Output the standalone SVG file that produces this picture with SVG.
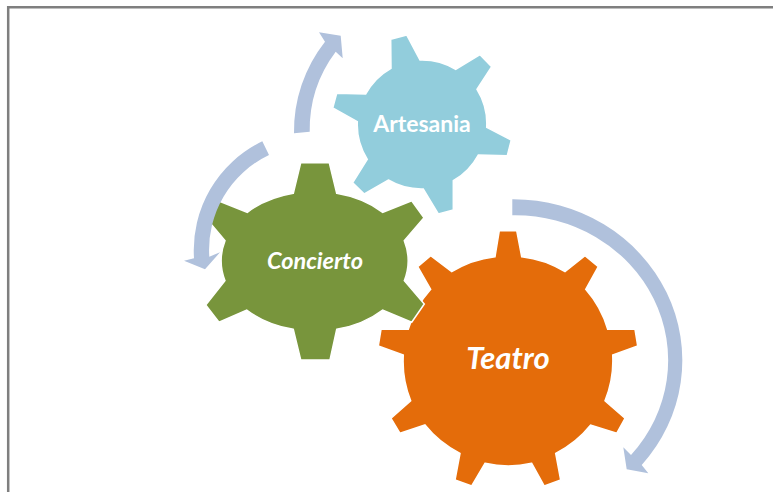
<svg xmlns="http://www.w3.org/2000/svg" width="773" height="492" viewBox="0 0 773 492">
<style>
.t{font-family:Lato,"Open Sans","Liberation Sans",sans-serif;fill:#fff;font-weight:700;text-anchor:middle}
.g{stroke:#fff;stroke-width:1.5;stroke-linejoin:miter}
.a{fill:#b0c1dc}
</style>
<rect width="773" height="492" fill="#fff"/>
<path d="M8.2 492V7.2H773" fill="none" stroke="#7f7f7f" stroke-width="2.5"/>
<g id="node-teatro">
<path class="g" fill="#e46c0a" d="M499.3 230.7H516.7L521.7 256.7A105 105 0 0 1 565 271.7L585 255.7 598.3 266.7 585.7 289.3A105 105 0 0 1 607.7 329.3H635L637.7 346 612.7 355A105 105 0 0 1 605 400.7L625 418.3 616.7 433.3 590.7 425A105 105 0 0 1 555.7 453.3L560.7 480 544.3 486 531.7 463.3A105 105 0 0 1 485 463.3L471.7 486 455 480 460 453.3A105 105 0 0 1 425 425L400 433.3 391 418.3 410.7 400.7A105 105 0 0 1 403.3 355L378.3 346 381 329.3H408.3A105 105 0 0 1 430.7 289.3L417.7 266.7 430.7 255.7 451.7 271.7A105 105 0 0 1 495 256.7Z"/>
<text class="t" x="508" y="369" font-size="31" font-style="italic">Teatro</text>
</g>
<g id="node-artesania">
<path class="g" fill="#92cddc" d="M390.7 39.3 406.7 35 420 60A65 65 0 0 1 455.7 69.3L480 54.7 491.7 66.7 477 89.3A65 65 0 0 1 486.7 127.3L511.3 140 507.3 155.7 478.3 155A65 65 0 0 1 453.3 180.7V210L438.3 214 423.3 189A65 65 0 0 1 388.3 180L364.3 194 352.7 182.7 367.3 159.3A65 65 0 0 1 357.3 121.7L332.7 108 336.7 93.3 365.7 94A65 65 0 0 1 391 68.3Z"/>
<text class="t" x="422" y="132" font-size="23">Artesania</text>
</g>
<g id="node-concierto">
<path class="g" fill="#78953c" d="M300.7 162.7H329.3L336.7 193.3A94 71 0 0 1 382.7 212.3L411.7 200.7 424 217.7 404.3 240.7A94 71 0 0 1 404.3 280.7L424.3 304 411.7 322.3 382.7 310A94 71 0 0 1 336.7 329.3L330 360H300.7L293.3 329.3A94 71 0 0 1 246.7 310L219 322.3 205.7 305 225 280.7A94 71 0 0 1 225 240.7L205.7 217.7 218.3 200.7 247.3 212.3A94 71 0 0 1 293.3 193.3Z"/>
<text class="t" x="315" y="269" font-size="23.5" font-style="italic">Concierto</text>
</g>
<g id="connectors">
<path class="a" d="M512.3 199.3A169 161 0 0 1 641.7 465L648.3 473.3 626.7 469.3 623.3 447.3 631 455A153 145 0 0 0 512.3 215.3Z"/>
<path class="a" d="M294 133.3A145 145 0 0 1 325 41.7L319 32.3 340.7 35.7 342.7 58.3 335.7 51.7A130 130 0 0 0 309.7 131.7Z"/>
<path class="a" d="M262.3 141.3A121 121 0 0 0 194 258.3L184 260.7 205 269.3 220 252.3 209.3 256.7A105 105 0 0 1 269 155Z"/>
</g>
</svg>
